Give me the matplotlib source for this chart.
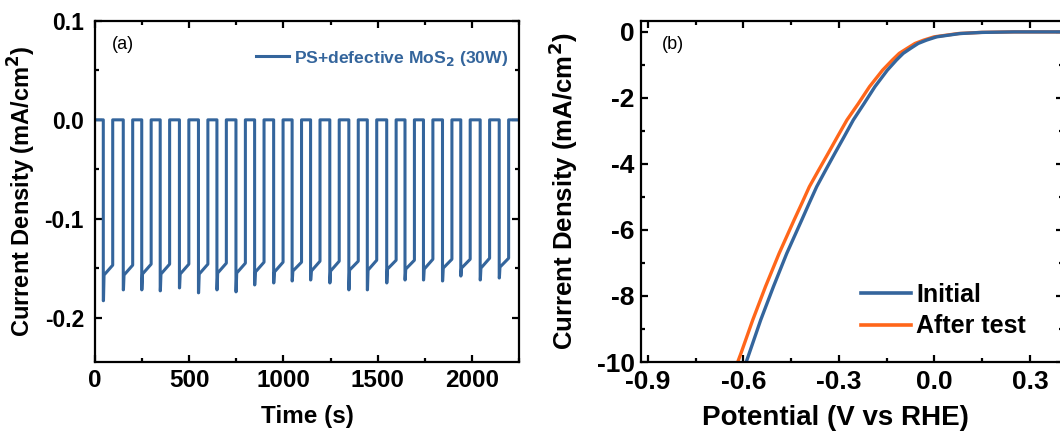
import matplotlib
matplotlib.use("Agg")
import matplotlib.pyplot as plt
from matplotlib.ticker import MultipleLocator
from matplotlib.lines import Line2D

plt.rcParams['font.family'] = ['Liberation Sans', 'DejaVu Sans']
plt.rcParams['font.weight'] = 'bold'
plt.rcParams['mathtext.default'] = 'bf'
plt.rcParams['axes.unicode_minus'] = False

# ---- panel (a): chopped-light transient ----
on_times = [44, 150, 248, 346, 448, 549, 647, 748, 847, 948, 1046,
            1144, 1246, 1347, 1445, 1548, 1645, 1743, 1844, 1941, 2044, 2145]
spike_vals = [-0.183, -0.172, -0.172, -0.173, -0.170, -0.175, -0.172, -0.174,
              -0.167, -0.165, -0.163, -0.162, -0.165, -0.172, -0.172, -0.165,
              -0.162, -0.162, -0.163, -0.158, -0.162, -0.160]
start_vals = [-0.157, -0.157, -0.156, -0.156, -0.156, -0.156, -0.155, -0.155,
              -0.154, -0.154, -0.153, -0.153, -0.153, -0.152, -0.152, -0.151,
              -0.151, -0.151, -0.150, -0.150, -0.150, -0.149]
end_vals = [-0.147, -0.147, -0.146, -0.146, -0.146, -0.146, -0.145, -0.145,
            -0.144, -0.144, -0.144, -0.143, -0.143, -0.143, -0.142, -0.142,
            -0.142, -0.141, -0.141, -0.141, -0.140, -0.140]
light_on = 50   # s per illumination
t_end = 2250

t_a, j_a = [0], [0.0]
for t0, sp, st, en in zip(on_times, spike_vals, start_vals, end_vals):
    t_a += [t0, t0, t0 + 1, t0 + 4, t0 + light_on, t0 + light_on]
    j_a += [0.0, sp, sp, st, en, 0.0]
t_a.append(t_end)
j_a.append(0.0)

# ---- panel (b): LSV before / after ----
j_lsv = [-10.1, -9.74, -8.73, -7.72, -6.71, -5.70, -5.20, -4.69, -4.19, -3.68,
         -3.18, -2.67, -2.17, -1.66, -1.16, -0.85, -0.65, -0.50, -0.35, -0.25,
         -0.15, -0.05, -0.015, 0.0, 0.0]
v_init = [-0.595, -0.582, -0.546, -0.506, -0.464, -0.417, -0.394, -0.370, -0.342,
          -0.313, -0.284, -0.255, -0.221, -0.187, -0.148, -0.119, -0.098, -0.075,
          -0.051, -0.025, 0.007, 0.080, 0.15, 0.25, 0.40]
v_after = [-0.622, -0.608, -0.571, -0.531, -0.488, -0.441, -0.417, -0.393, -0.364,
           -0.334, -0.305, -0.275, -0.239, -0.204, -0.163, -0.132, -0.1105, -0.086,
           -0.061, -0.034, -0.001, 0.075, 0.147, 0.25, 0.40]

blue = '#34659c'
orange = '#ff661a'

fig = plt.figure(figsize=(10.6, 4.32), dpi=100)
ax1 = fig.add_axes([95 / 1060, 70 / 432, 424 / 1060, 341 / 432])
ax2 = fig.add_axes([641 / 1060, 70 / 432, 422 / 1060, 341 / 432])

for ax in (ax1, ax2):
    for s in ax.spines.values():
        s.set_linewidth(1.6)
    ax.tick_params(which='both', direction='in', top=True, right=True, width=1.6)
    ax.tick_params(which='major', length=5)
    ax.tick_params(which='minor', length=3)

ax1.plot(t_a, j_a, color=blue, lw=2.2, label='PS+defective MoS$_2$ (30W)')
ax1.set_xlim(0, t_end)
ax1.set_ylim(-0.245, 0.1)
ax1.xaxis.set_major_locator(MultipleLocator(500))
ax1.xaxis.set_minor_locator(MultipleLocator(250))
ax1.yaxis.set_major_locator(MultipleLocator(0.1))
ax1.yaxis.set_minor_locator(MultipleLocator(0.05))
ax1.tick_params(axis='x', labelsize=17.5, pad=5)
ax1.tick_params(axis='y', labelsize=16.5, pad=8)
ax1.set_xlabel('Time (s)', fontsize=17.5, fontweight='bold')
ax1.set_ylabel('Current Density (mA/cm$^2$)', fontsize=17, fontweight='bold')
ax1.yaxis.set_label_coords(-0.134, 0.5)
ax1.xaxis.set_label_coords(0.5, -0.126)
ax1.text(0.04, 0.93, '(a)', transform=ax1.transAxes, fontsize=13,
         fontweight='normal', va='center')
ax1.legend(loc='upper right', bbox_to_anchor=(1.0, 0.95), frameon=False,
           fontsize=12.6, handlelength=1.9, handletextpad=0.3,
           borderaxespad=0.2, labelcolor=blue)

ax2.plot(v_after, j_lsv, color=orange, lw=2.4)
ax2.plot(v_init, j_lsv, color=blue, lw=2.4)
ax2.set_xlim(-0.922, 0.404)
ax2.set_ylim(-10, 0.33)
ax2.xaxis.set_minor_locator(MultipleLocator(0.15))
ax2.yaxis.set_minor_locator(MultipleLocator(1))
ax2.set_xticks([-0.9, -0.6, -0.3, 0.0, 0.3])
ax2.set_xticklabels(['-0.9', '-0.6', '-0.3', '0.0', '0.3'])
ax2.set_yticks([0, -2, -4, -6, -8, -10])
ax2.set_yticklabels(['0', '-2', '-4', '-6', '-8', '-10'])
ax2.tick_params(axis='x', labelsize=19, pad=6)
ax2.tick_params(axis='y', labelsize=19, pad=4.5)
ax2.set_xlabel('Potential (V vs RHE)', fontsize=20, fontweight='bold')
ax2.set_ylabel('Current Density (mA/cm$^2$)', fontsize=18.5, fontweight='bold')
ax2.yaxis.set_label_coords(-0.145, 0.5)
ax2.xaxis.set_label_coords(0.46, -0.127)
ax2.text(0.05, 0.93, '(b)', transform=ax2.transAxes, fontsize=13,
         fontweight='normal', va='center')
handles = [Line2D([], [], color=blue, lw=2.6), Line2D([], [], color=orange, lw=2.6)]
ax2.legend(handles, ['Initial', 'After test'], loc='lower left',
           bbox_to_anchor=(0.469, 0.003), frameon=False, fontsize=18,
           handlelength=2.0, handletextpad=0.2, labelspacing=0.3)

fig.savefig('out.png', dpi=100)
